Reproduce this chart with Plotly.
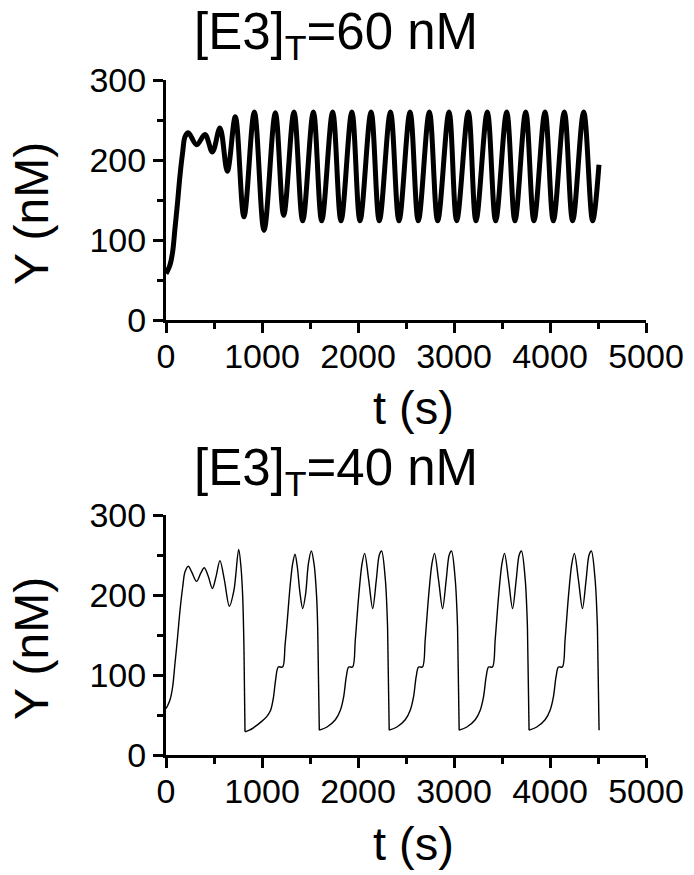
import plotly.graph_objects as go

# ---------------------------------------------------------------------------
# Data
# ---------------------------------------------------------------------------

# [E3]_T = 60 nM : sustained near-sinusoidal oscillation (extrema + early rise)
t_60 = [0, 14, 42, 69, 94, 118, 146, 174, 198, 232, 320, 406, 483, 562, 639, 722,
        812, 920, 1021, 1139, 1226, 1333, 1424, 1535, 1622, 1736, 1823, 1936, 2021,
        2136, 2222, 2338, 2427, 2542, 2628, 2743, 2830, 2948, 3028, 3149, 3229, 3347,
        3434, 3549, 3635, 3747, 3833, 3948, 4035, 4149, 4236, 4351, 4444, 4510]
y_60 = [58, 61, 69, 85, 115, 144, 181, 210, 229, 234, 219, 232, 210, 240, 186, 254,
        129, 260, 112, 259, 131, 260, 124, 260, 124, 260, 124, 260, 124,
        260, 124, 260, 124, 260, 124, 260, 124, 260, 124, 260, 124, 260,
        124, 260, 124, 260, 124, 260, 124, 260, 124, 260, 124, 194]

# [E3]_T = 40 nM : relaxation-type bursts with sharp drops
t_40 = [0, 14, 42, 69, 94, 118, 146, 174, 198, 233, 267, 319, 361, 399, 441, 483,
        521, 562, 608, 660, 708, 757, 781, 799, 812, 823,
        868, 910, 997, 1049, 1090, 1118, 1142, 1170, 1215, 1240, 1264, 1292, 1319,
        1344, 1368, 1396, 1424, 1455, 1483, 1514, 1542, 1569, 1580, 1597,
        1677, 1764, 1816, 1851, 1878, 1903, 1944, 1972, 2007, 2042, 2069,
        2111, 2153, 2191, 2222, 2246, 2285, 2308, 2325,
        2405, 2492, 2544, 2579, 2606, 2631, 2672, 2700, 2735, 2770, 2797,
        2839, 2881, 2919, 2950, 2974, 3013, 3037, 3054,
        3134, 3221, 3273, 3308, 3335, 3360, 3401, 3429, 3464, 3499, 3526,
        3568, 3610, 3648, 3679, 3703, 3742, 3765, 3782,
        3862, 3949, 4001, 4036, 4063, 4088, 4129, 4157, 4192, 4227, 4254,
        4296, 4338, 4376, 4407, 4431, 4470, 4494, 4511]
y_40 = [58, 61, 69, 85, 115, 144, 181, 210, 229, 236, 229, 217, 227, 234, 223, 208,
        223, 243, 219, 186, 206, 257, 235, 198, 135, 29,
        31, 34, 42, 48, 56, 71, 94, 110, 110, 137, 169, 210, 239,
        251, 235, 202, 183, 202, 239, 255, 239, 198, 160, 31,
        35, 44, 56, 73, 98, 110, 110, 144, 198, 239, 252,
        219, 183, 219, 250, 255, 219, 160, 31,
        35, 44, 56, 73, 98, 110, 110, 144, 198, 239, 252,
        219, 183, 219, 250, 255, 219, 160, 31,
        35, 44, 56, 73, 98, 110, 110, 144, 198, 239, 252,
        219, 183, 219, 250, 255, 219, 160, 31,
        35, 44, 56, 73, 98, 110, 110, 144, 198, 239, 252,
        219, 183, 219, 250, 255, 219, 160, 31]

titles = ["[E3]<sub>T</sub>=60 nM", "[E3]<sub>T</sub>=40 nM"]
x_label = "t (s)"
y_label = "Y (nM)"

# ---------------------------------------------------------------------------
# Figure (page margin removed so the figure fills the whole window)
# ---------------------------------------------------------------------------

W, H = 694, 875
ML, MT = 166, 80
MR, MB = W - 646, H - 755
FONT = "Liberation Sans, Arial, sans-serif"


def px_x(x):
    # screen pixel -> paper x
    return (x - ML) / (W - ML - MR)


def px_y(y):
    # screen pixel -> paper y
    return (H - MB - y) / (H - MT - MB)


fig = go.Figure()
fig.add_trace(go.Scatter(x=t_60, y=y_60, mode="lines", line_shape="spline",
                         line=dict(color="black", width=5, smoothing=1.0),
                         xaxis="x", yaxis="y", showlegend=False))

# lower curve: smooth stretches drawn as splines, the sudden drops as straight lines
drops = [i for i in range(len(y_40) - 1) if y_40[i] - y_40[i + 1] > 80]
start = 0
for i in drops + [len(y_40) - 1]:
    fig.add_trace(go.Scatter(x=t_40[start:i + 1], y=y_40[start:i + 1], mode="lines",
                             line_shape="spline",
                             line=dict(color="black", width=1.4, smoothing=0.9),
                             xaxis="x2", yaxis="y2", showlegend=False))
    if i < len(y_40) - 1:
        fig.add_trace(go.Scatter(x=t_40[i:i + 2], y=y_40[i:i + 2], mode="lines",
                                 line=dict(color="black", width=1.4),
                                 xaxis="x2", yaxis="y2", showlegend=False))
    start = i + 1

x_common = dict(range=[0, 5000], tick0=0, dtick=1000, ticks="outside", ticklen=10,
                tickwidth=3, tickcolor="black", showline=True, linewidth=3,
                linecolor="black", showgrid=False, zeroline=False, automargin=False,
                ticklabelstandoff=-6,
                tickfont=dict(size=34, color="black", family=FONT),
                minor=dict(dtick=500, ticks="outside", ticklen=6, tickwidth=3,
                           tickcolor="black", showgrid=False))
y_common = dict(range=[0, 300], tick0=0, dtick=100, ticks="outside", ticklen=10,
                tickwidth=3, tickcolor="black", showline=True, linewidth=3,
                linecolor="black", showgrid=False, zeroline=False, automargin=False,
                tickfont=dict(size=34, color="black", family=FONT),
                minor=dict(dtick=50, ticks="outside", ticklen=6, tickwidth=3,
                           tickcolor="black", showgrid=False))

top_dom = [px_y(320), 1.0]
bot_dom = [0.0, px_y(515)]

fig.update_layout(
    width=W, height=H,
    margin=dict(l=ML, r=MR, t=MT, b=MB),
    paper_bgcolor="white", plot_bgcolor="white",
    font=dict(family=FONT, color="black"),
    xaxis=dict(domain=[0, 1], anchor="y", **x_common),
    yaxis=dict(domain=top_dom, anchor="x", **y_common),
    xaxis2=dict(domain=[0, 1], anchor="y2", **x_common),
    yaxis2=dict(domain=bot_dom, anchor="x2", **y_common),
)

annots = []
for i, off in enumerate([0, 435]):
    annots.append(dict(text=titles[i], x=px_x(336), y=px_y(36 + off),
                       xref="paper", yref="paper", xanchor="center", yanchor="middle",
                       showarrow=False, font=dict(size=51, family=FONT)))
    annots.append(dict(text=x_label, x=px_x(413), y=px_y(408 + off),
                       xref="paper", yref="paper", xanchor="center", yanchor="middle",
                       showarrow=False, font=dict(size=47, family=FONT)))
    annots.append(dict(text=y_label, x=px_x(31), y=px_y(214 + off), textangle=-90,
                       xref="paper", yref="paper", xanchor="center", yanchor="middle",
                       showarrow=False, font=dict(size=48, family=FONT)))
fig.update_layout(annotations=annots)

fig.write_html("out.html", config={"displayModeBar": False},
               post_script="document.body.style.margin='0';"
                           "document.body.style.overflow='hidden';")
